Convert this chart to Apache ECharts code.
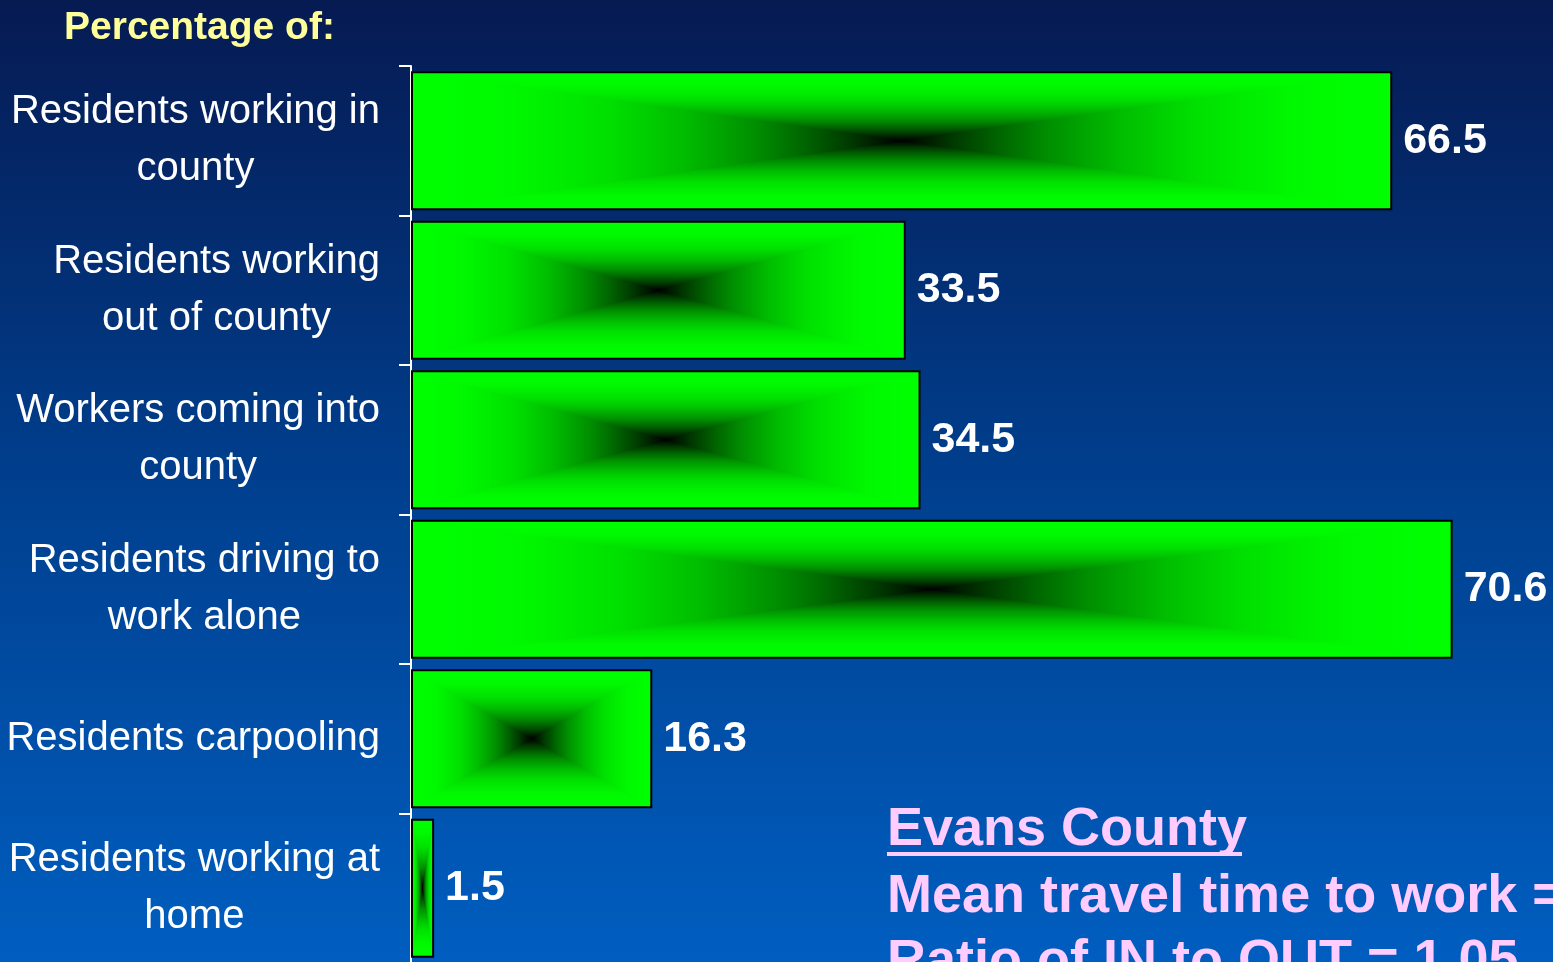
<!DOCTYPE html>
<html><head><meta charset="utf-8">
<script src="https://cdn.jsdelivr.net/npm/echarts@6/dist/echarts.min.js"></script>
<style>html,body{margin:0;padding:0;background:#003080;overflow:hidden}#c{width:1553px;height:962px}</style>
</head><body><div id="c"></div>
<script>
const categories = ['Residents working in\ncounty', 'Residents working\nout of county', 'Workers coming into\ncounty', 'Residents driving to\nwork alone', 'Residents carpooling', 'Residents working at\nhome'];
const values = [66.5, 33.5, 34.5, 70.6, 16.3, 1.5];
const titleText = 'Percentage of:';
const noteTitle = 'Evans County';
const noteLine1 = 'Mean travel time to work =';
const noteLine2 = 'Ratio of IN to OUT = 1.05';

const chart = echarts.init(document.getElementById('c'), null, {renderer: 'canvas'});
const STOPS = [
  {offset: 0, color: 'rgb(0,255,0)'}, {offset: 0.2, color: 'rgb(0,249,0)'},
  {offset: 0.4, color: 'rgb(0,224,0)'}, {offset: 0.55, color: 'rgb(0,190,0)'},
  {offset: 0.7, color: 'rgb(0,143,0)'}, {offset: 0.8, color: 'rgb(0,102,0)'},
  {offset: 0.9, color: 'rgb(0,55,0)'}, {offset: 1, color: 'rgb(0,0,0)'}];
function grad(x, y, x2, y2) {
  return {type: 'linear', x: x, y: y, x2: x2, y2: y2, global: true, colorStops: STOPS};
}
function renderItem(params, api) {
  const cat = api.value(0), v = api.value(1);
  const p0 = api.coord([0, cat]);
  const p1 = api.coord([v, cat]);
  const band = api.size([0, 1])[1];
  const h = band * 0.916;
  const x0 = p0[0] + 1, x1 = p1[0], yc = p0[1];
  const y0 = yc - h / 2, y1 = yc + h / 2, cx = (x0 + x1) / 2;
  const tri = (pts, g) => ({type: 'polygon', shape: {points: pts}, style: {fill: g, stroke: g, lineWidth: 1}});
  return {type: 'group', children: [
    tri([[x0, y0], [x1, y0], [cx, yc]], grad(cx, y0, cx, yc)),
    tri([[x0, y1], [x1, y1], [cx, yc]], grad(cx, y1, cx, yc)),
    tri([[x0, y0], [x0, y1], [cx, yc]], grad(x0, yc, cx, yc)),
    tri([[x1, y0], [x1, y1], [cx, yc]], grad(x1, yc, cx, yc)),
    {type: 'rect', shape: {x: x0, y: y0, width: x1 - x0, height: h}, style: {fill: null, stroke: '#000', lineWidth: 2}}
  ]};
}
const sans = '"Liberation Sans",Arial,Helvetica,sans-serif';
chart.setOption({
  backgroundColor: {type: 'linear', x: 0, y: 0, x2: 0, y2: 1, colorStops: [
    {offset: 0, color: '#061a52'}, {offset: 0.5, color: '#003f8e'}, {offset: 1, color: '#005ec0'}]},
  animation: false,
  grid: {left: 411, top: 66, width: 1105.5, height: 897, containLabel: false, outerBoundsMode: 'none'},
  xAxis: {type: 'value', min: 0, max: 75, show: false},
  yAxis: {type: 'category', data: categories, inverse: true,
    axisLine: {show: true, lineStyle: {color: '#fff', width: 2}},
    axisTick: {show: true, length: 12, lineStyle: {color: '#fff', width: 2}},
    axisLabel: {margin: 31, align: 'right',
      formatter: (s) => s.split('\n').map(t => '{c|' + t + '}').join('\n'),
      rich: {c: {align: 'center', color: '#fff', fontSize: 40, fontFamily: sans, lineHeight: 57}}}
  },
  series: [
    {type: 'bar', data: values, silent: true, barWidth: '91.6%', z: 1,
      itemStyle: {color: 'rgba(0,0,0,0)'},
      label: {show: true, position: 'right', distance: 12, color: '#fff', fontWeight: 'bold', fontSize: 43, fontFamily: sans,
        formatter: (p) => p.value.toFixed(1)}},
    {type: 'custom', renderItem: renderItem, z: 3, silent: true,
      encode: {x: 1, y: 0}, data: values.map((v, i) => [i, v])}
  ],
  graphic: [
    {type: 'text', left: 64, top: 9, style: {text: titleText, fill: '#FFFF99', font: 'bold 39px ' + sans}},
    {type: 'text', left: 887, top: 803, style: {text: noteTitle, fill: '#FFCCFF', font: 'bold 54px ' + sans}},
    {type: 'rect', left: 887, top: 852, shape: {width: 355, height: 4}, style: {fill: '#FFCCFF'}},
    {type: 'text', left: 887, top: 870, style: {text: noteLine1, fill: '#FFCCFF', font: 'bold 54px ' + sans}},
    {type: 'text', left: 887, top: 935, style: {text: noteLine2, fill: '#FFCCFF', font: 'bold 54px ' + sans}}
  ]
});
</script></body></html>
